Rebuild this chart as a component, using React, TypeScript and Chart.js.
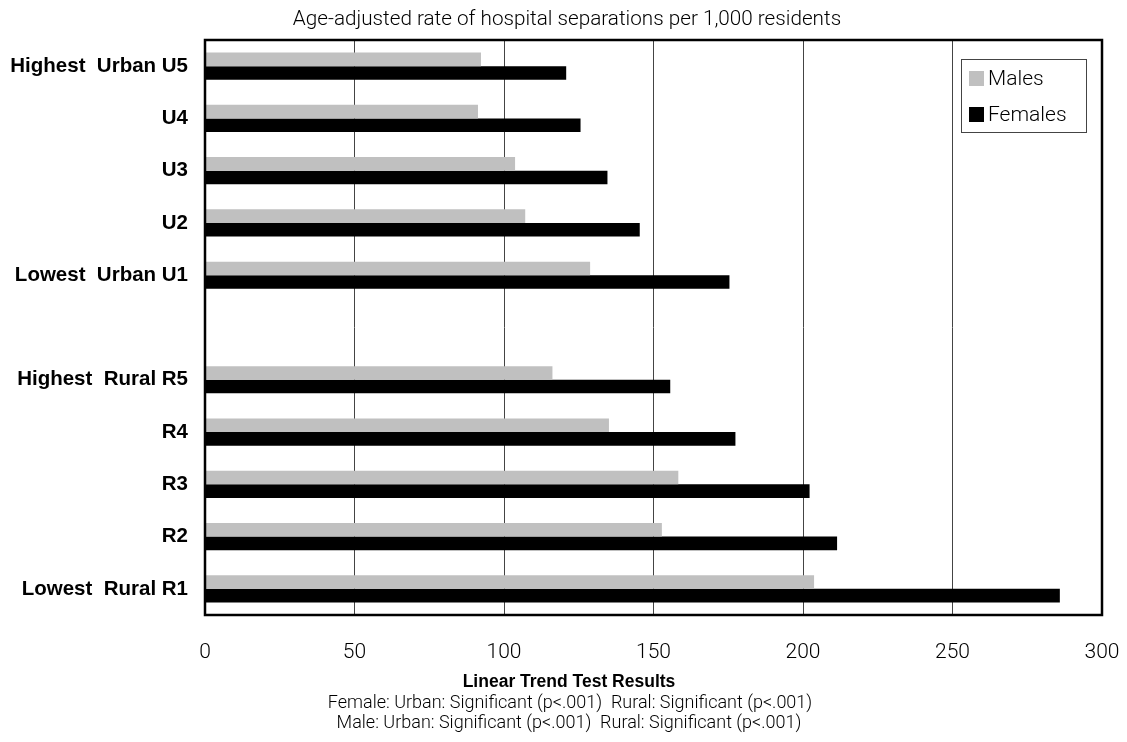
import { useEffect, useRef } from "react";
import { Chart, registerables } from "chart.js";

Chart.register(...registerables);

const categories = [
  "Highest  Urban U5",
  "U4",
  "U3",
  "U2",
  "Lowest  Urban U1",
  "",
  "Highest  Rural R5",
  "R4",
  "R3",
  "R2",
  "Lowest  Rural R1",
];
const males = [92.3, 91.3, 103.7, 107.1, 128.8, null, 116.2, 135.1, 158.3, 152.8, 203.7];
const females = [120.8, 125.6, 134.6, 145.4, 175.4, null, 155.6, 177.4, 202.2, 211.4, 285.9];
const xMin = 0;
const xMax = 300;
const xStep = 50;
const titleText = "Age-adjusted rate of hospital separations per 1,000 residents";
const footerHeading = "Linear Trend Test Results";
const footerLines = [
  "Female: Urban: Significant (p<.001)  Rural: Significant (p<.001)",
  "Male: Urban: Significant (p<.001)  Rural: Significant (p<.001)",
];

const LIGHT = "Roboto, 'Liberation Sans', sans-serif";
const BOLD = "'Liberation Sans', Arial, sans-serif";

const decorPlugin = {
  id: "decor",
  afterDraw(chart: any) {
    const { ctx, chartArea } = chart;
    const { left, right, top, bottom } = chartArea;
    ctx.save();
    // frame
    ctx.strokeStyle = "#000";
    ctx.lineWidth = 2.5;
    ctx.strokeRect(left, top, right - left, bottom - top);

    // legend
    const lx = 961, ly = 59, lw = 125, lh = 73;
    ctx.lineWidth = 1;
    ctx.strokeStyle = "#444";
    ctx.fillStyle = "#fff";
    ctx.fillRect(lx, ly, lw, lh);
    ctx.strokeRect(lx + 0.5, ly + 0.5, lw, lh);
    const items = chart.data.datasets;
    const rowY = [78.5, 114.5];
    ctx.font = `300 21px ${LIGHT}`;
    ctx.textBaseline = "middle";
    ctx.textAlign = "left";
    items.forEach((ds: any, i: number) => {
      ctx.fillStyle = ds.backgroundColor;
      ctx.fillRect(969, rowY[i] - 7.5, 15, 15);
      ctx.fillStyle = "#000";
      ctx.fillText(ds.label, 988, rowY[i] + 1);
    });

    // title
    ctx.textAlign = "center";
    ctx.textBaseline = "alphabetic";
    ctx.fillStyle = "#000";
    ctx.font = `300 20.7px ${LIGHT}`;
    ctx.fillText(titleText, 567, 25);

    // footer
    ctx.font = `bold 17.5px ${BOLD}`;
    ctx.fillText(footerHeading, 569, 687);
    ctx.font = `300 18px ${LIGHT}`;
    ctx.fillText(footerLines[0], 570, 708);
    ctx.fillText(footerLines[1], 569, 727.5);
    ctx.restore();
  },
};

export default function App() {
  const ref = useRef<HTMLCanvasElement>(null);
  useEffect(() => {
    if (!ref.current) return;
    const chart = new Chart(ref.current, {
      type: "bar",
      data: {
        labels: categories,
        datasets: [
          {
            label: "Males",
            data: males,
            backgroundColor: "#c0c0c0",
            categoryPercentage: 0.52,
            barPercentage: 1,
          },
          {
            label: "Females",
            data: females,
            backgroundColor: "#000000",
            categoryPercentage: 0.52,
            barPercentage: 1,
          },
        ],
      },
      options: {
        indexAxis: "y",
        animation: false,
        responsive: false,
        layout: { padding: { top: 40, right: 25, left: 0, bottom: 0 } },
        scales: {
          x: {
            min: xMin,
            max: xMax,
            ticks: {
              stepSize: xStep,
              color: "#000",
              padding: 25,
              font: { family: LIGHT, size: 21, weight: 300 as any },
            },
            grid: { color: "#444", lineWidth: 1, drawTicks: false },
            border: { display: false },
            afterFit(s: any) {
              s.height = 127;
              s.paddingLeft = 0;
              s.paddingRight = 0;
            },
          },
          y: {
            ticks: {
              color: "#000",
              padding: 17,
              autoSkip: false,
              font: { family: BOLD, size: 20.5, weight: "bold" },
            },
            grid: { display: false, drawTicks: false },
            border: { display: false },
            afterFit(s: any) {
              s.width = 205;
              s.paddingTop = 0;
              s.paddingBottom = 0;
            },
          },
        },
        plugins: {
          legend: { display: false },
          tooltip: { enabled: false },
        },
      },
      plugins: [decorPlugin],
    });
    return () => chart.destroy();
  }, []);
  return (
    <div style={{ position: "absolute", left: 0, top: 0, width: 1127, height: 742, background: "#fff" }}>
      <canvas ref={ref} width={1127} height={742} style={{ display: "block" }} />
    </div>
  );
}
